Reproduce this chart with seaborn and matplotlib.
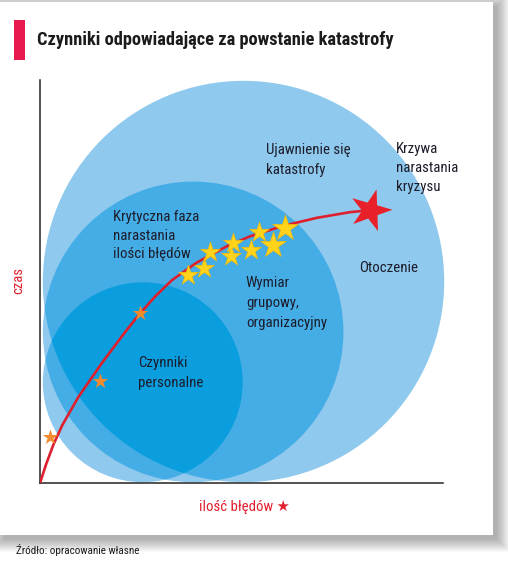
import numpy as np
import pandas as pd
import matplotlib
matplotlib.use("Agg")
import matplotlib.pyplot as plt
import seaborn as sns
from matplotlib.patches import Circle, Rectangle
from matplotlib.markers import MarkerStyle
from matplotlib.transforms import Affine2D
from matplotlib import font_manager as fm

# ---------------- data ----------------
circle_labels = ["Otoczenie", "Wymiar grupowy, organizacyjny", "Czynniki personalne"]
circle_cx = [50.5, 38.0, 25.5]
circle_cy = [50.0, 37.5, 25.0]
circle_r = [49.8, 37.3, 24.8]

curve_x = [0, 1.5, 3.3, 5.5, 9.5, 15.3, 21.5, 24.8, 28.5, 32.7, 38.9, 46.3, 52.1, 60.3, 68.7, 76.9, 81.9]
curve_y = [0, 4.6, 9.45, 14.3, 21.3, 29.7, 37.95, 42.05, 46.2, 50.3, 54.7, 58.7, 61.2, 63.8, 65.8, 67.2, 67.7]

yellow_small_x = [36.7, 40.7, 42.2, 47.4, 47.9, 52.4, 54.3]
yellow_small_y = [51.6, 53.3, 57.3, 56.3, 59.6, 57.8, 62.3]
yellow_big_x = [57.8, 60.8]
yellow_big_y = [59.1, 63.3]
orange_x = [2.5, 14.9, 24.8]
orange_y = [11.4, 25.3, 42.2]
crisis_x = [81.9]
crisis_y = [67.7]

title = "Czynniki odpowiadające za powstanie katastrofy"
x_label = "ilość błędów ★"
y_label = "czas"
source = "Źródło: opracowanie własne"

# ---------------- style ----------------
sns.set_style("white")

names = {f.name for f in fm.fontManager.ttflist}
FAM, STR = "DejaVu Sans", "normal"
for cand in ["Liberation Sans Narrow", "Roboto Condensed", "Noto Sans Condensed",
             "Open Sans Condensed", "Arial Narrow"]:
    if cand in names:
        FAM, STR = cand, "normal"
        break
else:
    for f in fm.fontManager.ttflist:
        if f.name in ("Noto Sans", "DejaVu Sans", "Open Sans", "Roboto") and \
                str(f.stretch) in ("condensed", "semi-condensed", "extra-condensed"):
            FAM, STR = f.name, f.stretch
            break

plt.rcParams["font.family"] = [FAM, "DejaVu Sans"]
FONT = dict(family=[FAM, "DejaVu Sans"], fontstretch=STR)

W, H = 508, 565
fig = plt.figure(figsize=(W / 100, H / 100), dpi=100)
fig.patch.set_facecolor("white")

# background / card layer in pixel coordinates
bg = fig.add_axes([0, 0, 1, 1], zorder=0)
bg.set_xlim(0, W)
bg.set_ylim(H, 0)
bg.axis("off")
cx0, cy0, cx1, cy1 = 0, 2, 492.5, 535
for s in range(14):
    bg.add_patch(Rectangle((cx0 + 4 - s, cy0 + 4 - s), (cx1 - cx0) + 2 * s, (cy1 - cy0) + 2 * s,
                           facecolor="black", alpha=0.024, lw=0))
bg.add_patch(Rectangle((cx0, cy0), cx1 - cx0, cy1 - cy0, facecolor="white", lw=0))
bg.add_patch(Rectangle((14, 20), 11, 40, facecolor="#E8194F", lw=0))
bg.text(37, 40, title, fontsize=13.2, fontweight="bold", color="#1b1b1b", va="center", ha="left", **FONT)
bg.text(18, 280, y_label, fontsize=10.5, color="#E0202E", rotation=90, va="center", ha="center", **FONT)
bg.text(244, 507, x_label, fontsize=10.7, color="#E0202E", va="center", ha="center", **FONT)
bg.text(16, 550, source, fontsize=8, color="#1b1b1b", va="center", ha="left", **FONT)

# main chart
ax = fig.add_axes([40 / W, (H - 483) / H, 403 / W, 403 / H], zorder=1)
ax.set_facecolor("none")
ax.set_xlim(0, 100)
ax.set_ylim(0, 100)
ax.set_xticks([])
ax.set_yticks([])
for side in ["top", "right"]:
    ax.spines[side].set_visible(False)
for side in ["left", "bottom"]:
    ax.spines[side].set_color("#222222")
    ax.spines[side].set_linewidth(1.1)

LIGHT, MID, DARK = "#8FC9EE", "#45ADE6", "#0A9EDE"

def circ(i, color, z):
    return Circle((circle_cx[i], circle_cy[i]), circle_r[i], facecolor=color, lw=0,
                  zorder=z, transform=ax.transData)

for i in range(3):
    p = ax.add_patch(circ(i, LIGHT, 1))
    p.set_clip_on(False)
# two-layer overlaps
p = ax.add_patch(circ(1, MID, 2)); p.set_clip_path(circ(0, "none", 0))
p = ax.add_patch(circ(2, MID, 2)); p.set_clip_path(circ(1, "none", 0))
# three-layer overlap
p = ax.add_patch(circ(2, DARK, 3)); p.set_clip_path(circ(0, "none", 0))

# crisis curve
curve = pd.DataFrame({"x": curve_x, "y": curve_y})
sns.lineplot(data=curve, x="x", y="y", sort=False, estimator=None, color="#DD1F2E",
             linewidth=1.9, ax=ax, zorder=4)
ax.lines[-1].set_solid_joinstyle("round")

sns.scatterplot(x=orange_x, y=orange_y, marker="*", s=135, color="#F28A2E", linewidth=0, ax=ax, zorder=5)
sns.scatterplot(x=yellow_small_x, y=yellow_small_y, marker="*", s=230, color="#FFD31A",
                edgecolor="#F4B400", linewidth=0.4, ax=ax, zorder=5)
sns.scatterplot(x=yellow_big_x, y=yellow_big_y, marker="*", s=380, color="#FFD31A",
                edgecolor="#F4B400", linewidth=0.4, ax=ax, zorder=5)
star_r = MarkerStyle("*", transform=Affine2D().rotate_deg(-88))
ax.scatter(crisis_x, crisis_y, marker=star_r, s=1000, color="#E8202A", linewidth=0, zorder=6, clip_on=False)

TXT = "#1c1c2a"
def label(x, y, lines, step=4.95, size=10.7):
    for k, ln in enumerate(lines):
        ax.text(x, y - k * step, ln, fontsize=size, color=TXT, va="center", ha="left", zorder=7, **FONT)

label(56.1, 82.6, ["Ujawnienie się", "katastrofy"])
label(88.3, 82.9, ["Krzywa", "narastania", "kryzysu"], step=4.75)
label(79.2, 53.3, ["Otoczenie"])
label(18.1, 66.0, ["Krytyczna faza", "narastania", "ilości błędów"], step=4.6)
label(51.1, 49.6, ["Wymiar", "grupowy,", "organizacyjny"])
label(24.3, 29.8, ["Czynniki", "personalne"])

fig.savefig("out.png", dpi=100, facecolor="white")
